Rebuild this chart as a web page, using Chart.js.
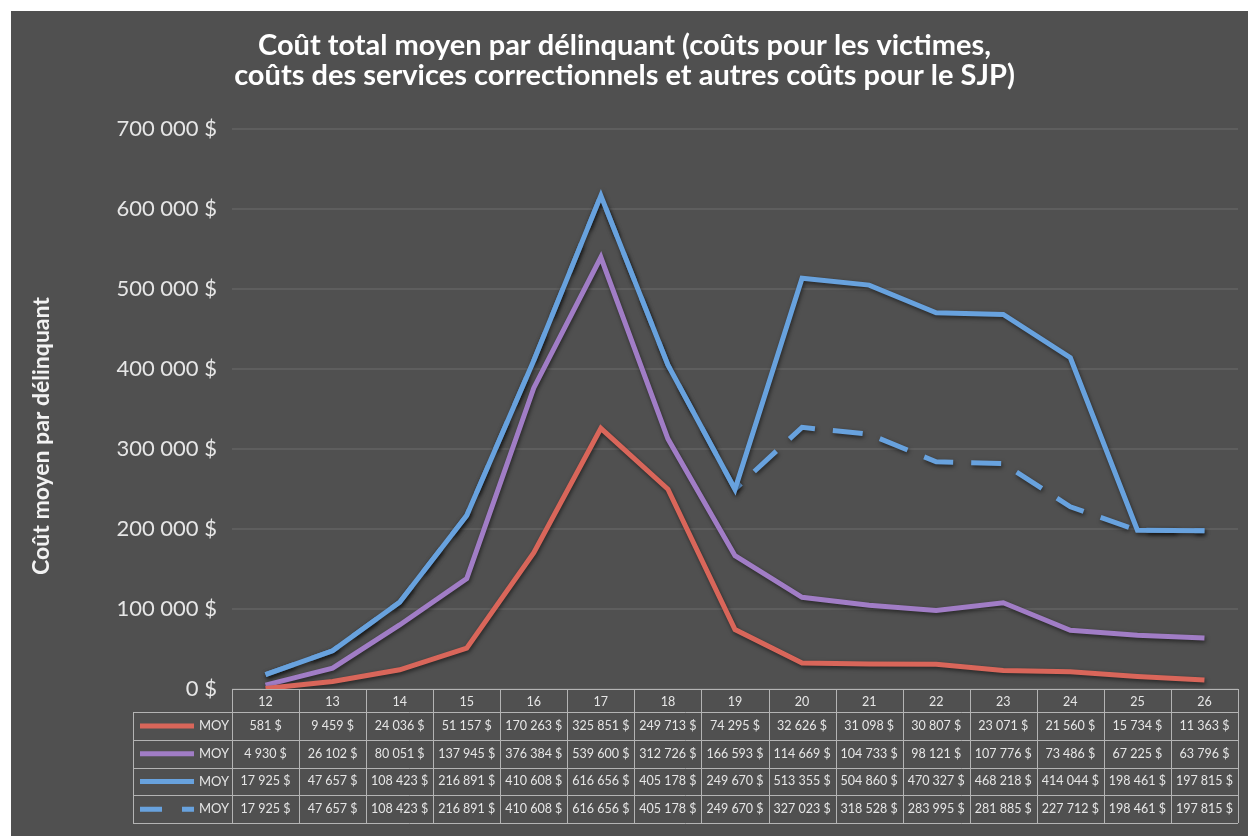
<!DOCTYPE html>
<html>
<head>
<meta charset="utf-8">
<script src="https://cdn.jsdelivr.net/npm/chart.js@4.4.0/dist/chart.umd.min.js"></script>
<style>
  body { margin: 0; background: #fff; }
  #wrap { width: 1248px; height: 836px; position: relative; }
</style>
</head>
<body>
<div id="wrap"><canvas id="cout"></canvas></div>
<script>
// ages (categories)
const ages = ['12', '13', '14', '15', '16', '17', '18', '19', '20', '21', '22', '23', '24', '25', '26'];

// MOY series
const moyRouge = [581, 9459, 24036, 51157, 170263, 325851, 249713, 74295, 32626, 31098, 30807, 23071, 21560, 15734, 11363];
const moyViolet = [4930, 26102, 80051, 137945, 376384, 539600, 312726, 166593, 114669, 104733, 98121, 107776, 73486, 67225, 63796];
const moyBleu = [17925, 47657, 108423, 216891, 410608, 616656, 405178, 249670, 513355, 504860, 470327, 468218, 414044, 198461, 197815];
const moyBleuTirets = [17925, 47657, 108423, 216891, 410608, 616656, 405178, 249670, 327023, 318528, 283995, 281885, 227712, 198461, 197815];

const serieLabels = ['MOY', 'MOY', 'MOY', 'MOY'];
const yMax = 700000;
const yStep = 100000;

const titre = [
  'Coût total moyen par délinquant (coûts pour les victimes,',
  'coûts des services correctionnels et autres coûts pour le SJP)'
];
const titreAxeY = 'Coût moyen par délinquant';

const FONT = 'Lato, "Open Sans", sans-serif';
const BG = '#505050';

function dollars(n) {
  return String(n).replace(/\B(?=(\d{3})+(?!\d))/g, ' ') + ' $';
}

// white margin + dark panel
const fondPlugin = {
  id: 'fond',
  beforeDraw(chart) {
    const c = chart.ctx;
    c.save();
    c.fillStyle = '#ffffff';
    c.fillRect(0, 0, chart.width, chart.height);
    c.fillStyle = BG;
    c.fillRect(11, 11, chart.width - 11, chart.height - 11);
    c.restore();
  }
};

// soft dark shadow under each line
const ombrePlugin = {
  id: 'ombre',
  beforeDatasetDraw(chart) {
    const c = chart.ctx;
    c.save();
    c.shadowColor = 'rgba(0, 0, 0, 0.55)';
    c.shadowBlur = 4;
    c.shadowOffsetX = 1;
    c.shadowOffsetY = 2;
  },
  afterDatasetDraw(chart) {
    chart.ctx.restore();
  }
};

// vertical axis title
const titreYPlugin = {
  id: 'titreY',
  afterDraw(chart) {
    const c = chart.ctx;
    c.save();
    c.translate(42, 436);
    c.rotate(-Math.PI / 2);
    c.font = 'bold 23px ' + FONT;
    c.fillStyle = '#f2f2f2';
    c.textAlign = 'center';
    c.textBaseline = 'middle';
    c.fillText(titreAxeY, 0, 0);
    c.restore();
  }
};

// data table under the plot (header with ages, one row per series)
const tablePlugin = {
  id: 'table',
  afterDraw(chart) {
    const c = chart.ctx;
    const xs = chart.scales.x;
    const area = chart.chartArea;
    const colW = area.width / ages.length;
    const top = area.bottom;
    const headH = 23;
    const rowH = 27.75;
    const legLeft = 133;
    const bottom = top + headH + rowH * 4;

    c.save();
    c.strokeStyle = '#b4b4b4';
    c.lineWidth = 1;

    // horizontal lines
    c.beginPath();
    c.moveTo(area.left, top + 0.5);
    c.lineTo(area.right, top + 0.5);
    for (let r = 0; r <= 4; r++) {
      const y = Math.round(top + headH + r * rowH) + 0.5;
      c.moveTo(legLeft, y);
      c.lineTo(area.right, y);
    }
    // vertical lines
    c.moveTo(legLeft + 0.5, top + headH);
    c.lineTo(legLeft + 0.5, bottom);
    for (let i = 0; i <= ages.length; i++) {
      const x = Math.round(area.left + i * colW) + 0.5;
      c.moveTo(x, top);
      c.lineTo(x, bottom);
    }
    c.stroke();

    // header
    c.fillStyle = '#e6e6e6';
    c.textAlign = 'center';
    c.textBaseline = 'middle';
    c.font = '12.5px ' + FONT;
    ages.forEach((a, i) => {
      c.fillText(a, xs.getPixelForValue(i), top + headH / 2 + 1);
    });

    // rows
    chart.data.datasets.forEach((ds, r) => {
      const yMid = top + headH + r * rowH + rowH / 2;
      // legend key
      c.save();
      c.strokeStyle = ds.borderColor;
      c.lineWidth = 5;
      c.lineCap = 'butt';
      if (ds.borderDash && ds.borderDash.length) c.setLineDash([22, 20]);
      c.beginPath();
      c.moveTo(140, yMid);
      c.lineTo(194, yMid);
      c.stroke();
      c.restore();
      c.fillStyle = '#e6e6e6';
      c.font = '13px ' + FONT;
      c.textAlign = 'right';
      c.fillText(serieLabels[r], 229, yMid);
      // values
      c.font = '12.5px ' + FONT;
      c.textAlign = 'center';
      ds.data.forEach((v, i) => {
        c.fillText(dollars(v), xs.getPixelForValue(i), yMid);
      });
    });
    c.restore();
  }
};

const serie = (data, color, dash) => ({
  label: 'MOY',
  data: data,
  borderColor: color,
  backgroundColor: color,
  borderWidth: 5,
  borderDash: dash || [],
  pointRadius: 0,
  tension: 0,
  fill: false
});

new Chart(document.getElementById('cout'), {
  type: 'line',
  data: {
    labels: ages,
    datasets: [
      serie(moyRouge, '#d9665a'),
      serie(moyViolet, '#a17dc6'),
      serie(moyBleu, '#68a2de'),
      serie(moyBleuTirets, '#68a2de', [30, 18])
    ]
  },
  options: {
    responsive: true,
    maintainAspectRatio: false,
    animation: false,
    layout: { padding: { left: 11, right: 10, top: 11, bottom: 147 } },
    plugins: {
      legend: { display: false },
      tooltip: { enabled: false },
      title: {
        display: true,
        text: titre,
        color: '#ffffff',
        font: { family: FONT, size: 29, weight: 'bold', lineHeight: 30 / 29 },
        padding: { top: 20, bottom: 38 }
      }
    },
    scales: {
      x: {
        display: false,
        offset: true
      },
      y: {
        min: 0,
        max: yMax,
        afterFit(scale) { scale.width = 221; },
        border: { display: false },
        grid: { color: '#5e5e5e', lineWidth: 2, drawTicks: false },
        ticks: {
          stepSize: yStep,
          padding: 15,
          color: '#e6e6e6',
          font: { family: FONT, size: 22 },
          callback: v => dollars(v)
        }
      }
    }
  },
  plugins: [fondPlugin, ombrePlugin, titreYPlugin, tablePlugin]
});
</script>
</body>
</html>
